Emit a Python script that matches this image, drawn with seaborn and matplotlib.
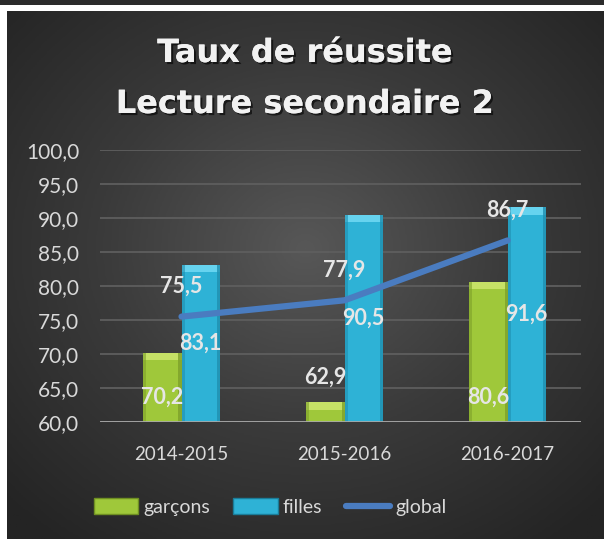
import numpy as np
import pandas as pd
import matplotlib
matplotlib.use("Agg")
import matplotlib.pyplot as plt
import matplotlib.patheffects as pe
from matplotlib.patches import Rectangle
from matplotlib.lines import Line2D
from matplotlib.ticker import FuncFormatter
import seaborn as sns

# data
years = ["2014-2015", "2015-2016", "2016-2017"]
garcons = [70.2, 62.9, 80.6]
filles = [83.1, 90.5, 91.6]
global_rate = [75.5, 77.9, 86.7]
series_names = ["garçons", "filles", "global"]
title_lines = ["Taux de réussite", "Lecture secondaire 2"]

GREEN = "#9fc83a"
GREEN_TOP = "#c6e166"
BLUE = "#2eb2d6"
BLUE_TOP = "#66d3ef"
LINE = "#4a7cc0"
TXT = "#d9d9d9"

sns.set_theme(style="dark")
plt.rcParams["font.family"] = ["Lato", "DejaVu Sans"]

fig = plt.figure(figsize=(6.04, 5.39), dpi=100)
fig.patch.set_facecolor("white")

# background panel with radial gradient
bg = fig.add_axes([7 / 604, 0, 597 / 604, 528 / 539], zorder=-2)
yy, xx = np.mgrid[-1:1:300j, -1:1:300j]
r = np.sqrt(xx ** 2 + (yy + 0.1) ** 2)
bg.imshow(np.clip(r, 0, 1.4), cmap=matplotlib.colors.LinearSegmentedColormap.from_list(
    "bg", ["#575757", "#3a3a3a", "#242424"]), aspect="auto", extent=[0, 1, 0, 1])
bg.set_axis_off()
fig.patches.append(Rectangle((0, 1 - 4.5 / 539), 1, 4.5 / 539, transform=fig.transFigure,
                             facecolor="#2b2b2b", edgecolor="none", zorder=-1))

ax = fig.add_axes([100 / 604, 1 - 422 / 539, 481 / 604, 272 / 539])
ax.set_facecolor("none")
ax.set_axisbelow(True)

df = pd.DataFrame({
    "annee": years * 2,
    "taux": garcons + filles,
    "serie": [series_names[0]] * 3 + [series_names[1]] * 3,
})
sns.barplot(data=df, x="annee", y="taux", hue="serie", hue_order=series_names[:2],
            palette=[GREEN, BLUE], width=0.47, saturation=1, legend=False, ax=ax,
            edgecolor="none", zorder=3)

# bevel-ish top and darker sides, taken from the drawn bars
for bar in list(ax.patches):
    x0, w, h = bar.get_x(), bar.get_width(), bar.get_height()
    is_green = bar.get_facecolor()[2] < 0.5
    top = GREEN_TOP if is_green else BLUE_TOP
    dark = "#7ea12a" if is_green else "#1f8fb0"
    ax.add_patch(Rectangle((x0, h - 1.1), w, 1.1, facecolor=top, edgecolor="none", zorder=4))
    ax.add_patch(Rectangle((x0, 60), w * 0.08, h - 60, facecolor=dark, alpha=0.6, edgecolor="none", zorder=4))
    ax.add_patch(Rectangle((x0 + w * 0.92, 60), w * 0.08, h - 60, facecolor=dark, alpha=0.8, edgecolor="none", zorder=4))

xs = np.arange(len(years))
sns.lineplot(x=xs, y=global_rate, color=LINE, linewidth=4.5, ax=ax, zorder=5,
             solid_capstyle="round")

ax.set_ylim(60, 100)
ax.set_xlim(-0.5, 2.45)
ax.set_yticks(np.arange(60, 101, 5))
ax.yaxis.set_major_formatter(FuncFormatter(lambda v, p: f"{v:.1f}".replace(".", ",")))
ax.grid(axis="y", color="#5e5e5e", linewidth=1.3)
ax.grid(axis="x", visible=False)
ax.axhline(60, color="#a8a8a8", linewidth=2, zorder=6)
for s in ax.spines.values():
    s.set_visible(False)
ax.set_xlabel("")
ax.set_ylabel("")
ax.tick_params(axis="y", colors=TXT, labelsize=15, length=0, pad=15)
ax.tick_params(axis="x", colors=TXT, labelsize=13.5, length=0, pad=17)


def fmt(v):
    return f"{v:.1f}".replace(".", ",")


lab = dict(color="#e6e6e6", fontsize=15.5, fontweight="bold", ha="center", va="center", zorder=7)
off = 0.47 / 4
for i, v in enumerate(garcons):
    if v - 60 < 5:
        ax.annotate(fmt(v), (i - off, v), xytext=(0, 18), textcoords="offset points", **lab)
    else:
        ax.annotate(fmt(v), (i - off, 60), xytext=(0, 18), textcoords="offset points", **lab)
for i, v in enumerate(filles):
    ax.text(i + off, (60 + v) / 2, fmt(v), **lab)
for i, v in enumerate(global_rate):
    ax.annotate(fmt(v), (i, v), xytext=(0, 22), textcoords="offset points", **lab)

# title
shadow = [pe.withSimplePatchShadow(offset=(1.5, -1.5), shadow_rgbFace="black", alpha=0.6), pe.Normal()]
for k, yb in enumerate([1 - 62 / 539, 1 - 113 / 539]):
    fig.text(305 / 604, yb, title_lines[k], ha="center", va="baseline", color="#f2f2f2",
             fontsize=23, fontweight="bold", family=["DejaVu Sans"], path_effects=shadow)

# legend
handles = [
    Rectangle((0, 0), 1, 1, facecolor=GREEN, edgecolor="#6f8f22"),
    Rectangle((0, 0), 1, 1, facecolor=BLUE, edgecolor="#1a7d99"),
    Line2D([0], [0], color=LINE, linewidth=4.5, solid_capstyle="round"),
]
leg = fig.legend(handles, series_names, loc="center", bbox_to_anchor=(270 / 604, 1 - 507 / 539),
                 ncol=3, frameon=False, fontsize=14, handlelength=2.3, handleheight=0.85,
                 handletextpad=0.25, columnspacing=1.2)
for t in leg.get_texts():
    t.set_color(TXT)

fig.savefig("out.png", dpi=100)
